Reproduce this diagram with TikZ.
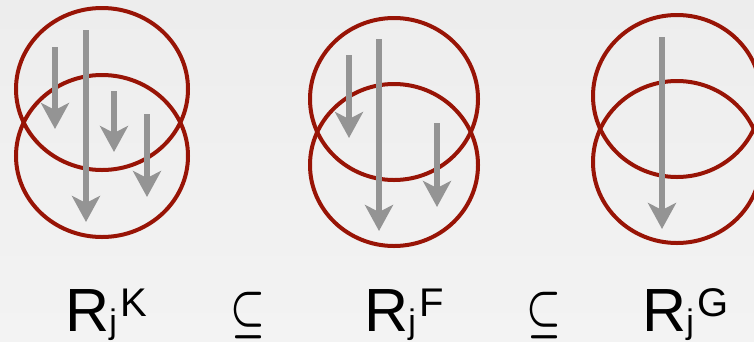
\documentclass[tikz,border=0pt]{standalone}
\usepackage{fontspec}
\setmainfont{Liberation Sans}
\usetikzlibrary{arrows.meta}
\definecolor{ringred}{RGB}{152,20,6}
\definecolor{arrgray}{RGB}{148,148,148}
\definecolor{bgtop}{RGB}{237,237,237}
\definecolor{bgbot}{RGB}{243,243,243}
\tikzset{
  ring/.style={draw=ringred, line width=4pt},
  flow/.style={draw=arrgray, line width=6pt, line cap=butt,
    -{Stealth[length=26pt,width=28pt,inset=7pt,color=arrgray]}},
  lbl/.style={anchor=base west, inner sep=0pt, text=black},
  rel/.style={anchor=center, inner sep=0pt, text=black}
}
\newcommand{\setlabel}[1]{{\fontsize{61}{61}\selectfont R}{\fontsize{34}{34}\selectfont\raisebox{-2pt}{j}}\kern4pt{\fontsize{40}{40}\selectfont\raisebox{15pt}{#1}}}
\begin{document}
\begin{tikzpicture}[x=1pt,y=-1pt]
  \useasboundingbox (0,0) rectangle (754,341);
  \shade[top color=bgtop, bottom color=bgbot] (0,0) rectangle (754,341);

  % set K
  \draw[ring] (102,89) ellipse [x radius=86pt, y radius=81pt];
  \draw[ring] (102,156) ellipse [x radius=86pt, y radius=81pt];
  \coordinate (k1s) at (86,30);  \coordinate (k1e) at (86,222);
  \coordinate (k2s) at (55,47);  \coordinate (k2e) at (55,129);
  \coordinate (k3s) at (114,91); \coordinate (k3e) at (114,152);
  \coordinate (k4s) at (147,114);\coordinate (k4e) at (147,197);
  \draw[flow] (k2s) -- (k2e);
  \draw[flow] (k1s) -- (k1e);
  \draw[flow] (k3s) -- (k3e);
  \draw[flow] (k4s) -- (k4e);

  % set F
  \draw[ring] (394,99) ellipse [x radius=84pt, y radius=81pt];
  \draw[ring] (394,165) ellipse [x radius=84pt, y radius=81pt];
  \coordinate (f1s) at (379,39);  \coordinate (f1e) at (379,231);
  \coordinate (f2s) at (349,55);  \coordinate (f2e) at (349,138);
  \coordinate (f3s) at (437,123); \coordinate (f3e) at (437,207);
  \draw[flow] (f2s) -- (f2e);
  \draw[flow] (f1s) -- (f1e);
  \draw[flow] (f3s) -- (f3e);

  % set G
  \draw[ring] (677,96) ellipse [x radius=84pt, y radius=81pt];
  \draw[ring] (677,162) ellipse [x radius=84pt, y radius=81pt];
  \coordinate (g1s) at (662,37); \coordinate (g1e) at (662,229);
  \draw[flow] (g1s) -- (g1e);

  % labels
  \node[lbl] (lblK) at (65,331) {\setlabel{K}};
  \node[rel] (sub1) at (248,315) {\scalebox{3.9}[5.2]{\boldmath$\subseteq$}};
  \node[lbl] (lblF) at (364,331) {\setlabel{F}};
  \node[rel] (sub2) at (543.5,315) {\scalebox{3.9}[5.2]{\boldmath$\subseteq$}};
  \node[lbl] (lblG) at (642,331) {\setlabel{G}};
\end{tikzpicture}
\end{document}
